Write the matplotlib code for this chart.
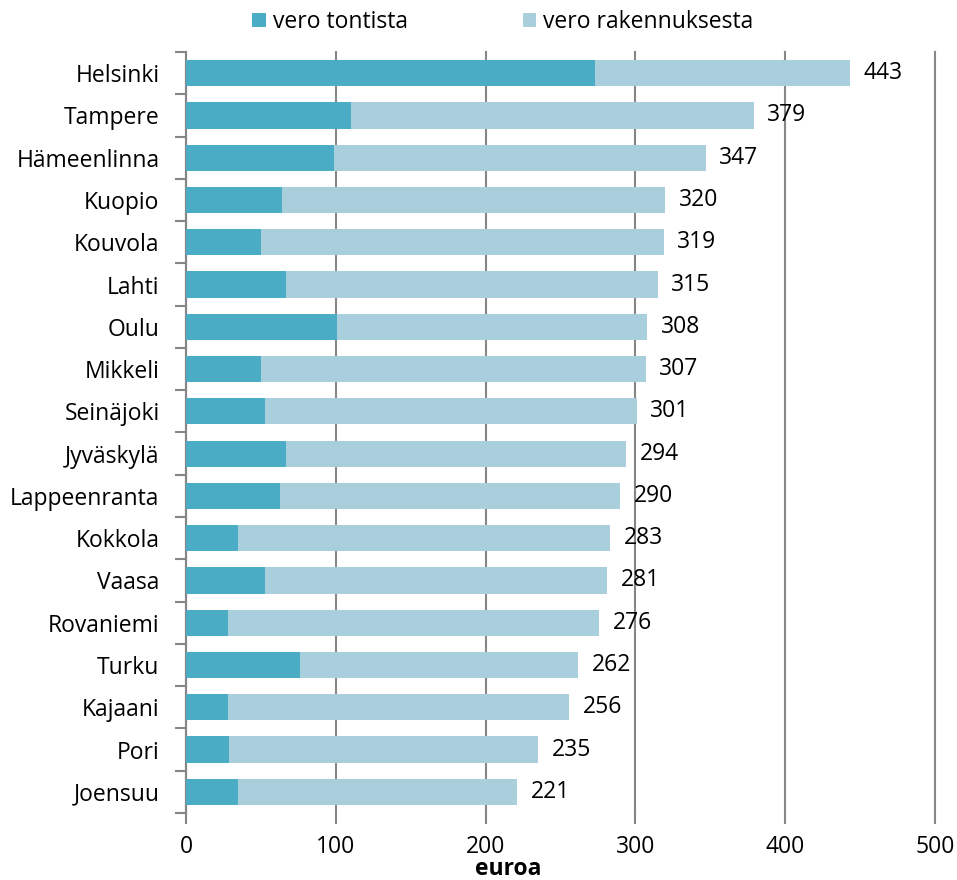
import matplotlib
matplotlib.use("Agg")
import matplotlib.pyplot as plt
import numpy as np

cities = ["Helsinki", "Tampere", "Hämeenlinna", "Kuopio", "Kouvola", "Lahti", "Oulu",
          "Mikkeli", "Seinäjoki", "Jyväskylä", "Lappeenranta", "Kokkola", "Vaasa",
          "Rovaniemi", "Turku", "Kajaani", "Pori", "Joensuu"]
totals = [443, 379, 347, 320, 319, 315, 308, 307, 301, 294, 290, 283, 281, 276, 262, 256, 235, 221]
tontti = [273, 110, 99, 64, 50, 67, 101, 50, 53, 67, 63, 35, 53, 28, 76, 28, 29, 35]
rakennus = [t - p for t, p in zip(totals, tontti)]

plt.rcParams['font.family'] = ['Open Sans', 'DejaVu Sans']

fig = plt.figure(figsize=(9.57, 8.8), dpi=100)
ax = fig.add_axes([186/957, 1-813/880, (935-186)/957, (813-52)/880])

dark = "#4BACC6"
light = "#A9CFDD"
grid = "#868686"
fs = 16.5

y = np.arange(len(cities))
ax.barh(y, tontti, height=0.62, color=dark, label="vero tontista", zorder=3)
ax.barh(y, rakennus, left=tontti, height=0.62, color=light, label="vero rakennuksesta", zorder=3)

for yi, t in zip(y, totals):
    ax.text(t + 9, yi, str(t), va="center", ha="left", fontsize=fs, color="black")

ax.set_ylim(len(cities) - 0.5, -0.5)
ax.set_xlim(0, 500)
ax.set_yticks(y)
ax.set_yticklabels(cities, fontsize=fs)
ax.set_yticks(np.arange(len(cities) + 1) - 0.5, minor=True)
ax.tick_params(axis="y", which="major", length=0, pad=19)
ax.tick_params(axis="y", which="minor", length=8, width=1.5, color=grid)
ax.set_xticks([0, 100, 200, 300, 400, 500])
ax.tick_params(axis="x", length=8, width=1.5, color=grid, labelsize=fs, pad=8)
ax.xaxis.grid(True, color=grid, linewidth=1.5, zorder=0)
for gl in ax.get_xgridlines():
    gl.set_clip_on(False)
ax.set_axisbelow(True)

for s in ["top", "right", "bottom"]:
    ax.spines[s].set_visible(False)
ax.spines["left"].set_color(grid)
ax.spines["left"].set_linewidth(1.5)

fig.text(508/957, 1-869/880, "euroa", ha="center", va="center", fontsize=fs, fontweight="bold")

leg = fig.legend(loc="center", bbox_to_anchor=(503/957, 1-22/880), ncol=2, frameon=False,
                 fontsize=fs, handlelength=0.6, handleheight=0.6, handletextpad=0.3,
                 columnspacing=5.0)

fig.savefig("out.png", dpi=100)
